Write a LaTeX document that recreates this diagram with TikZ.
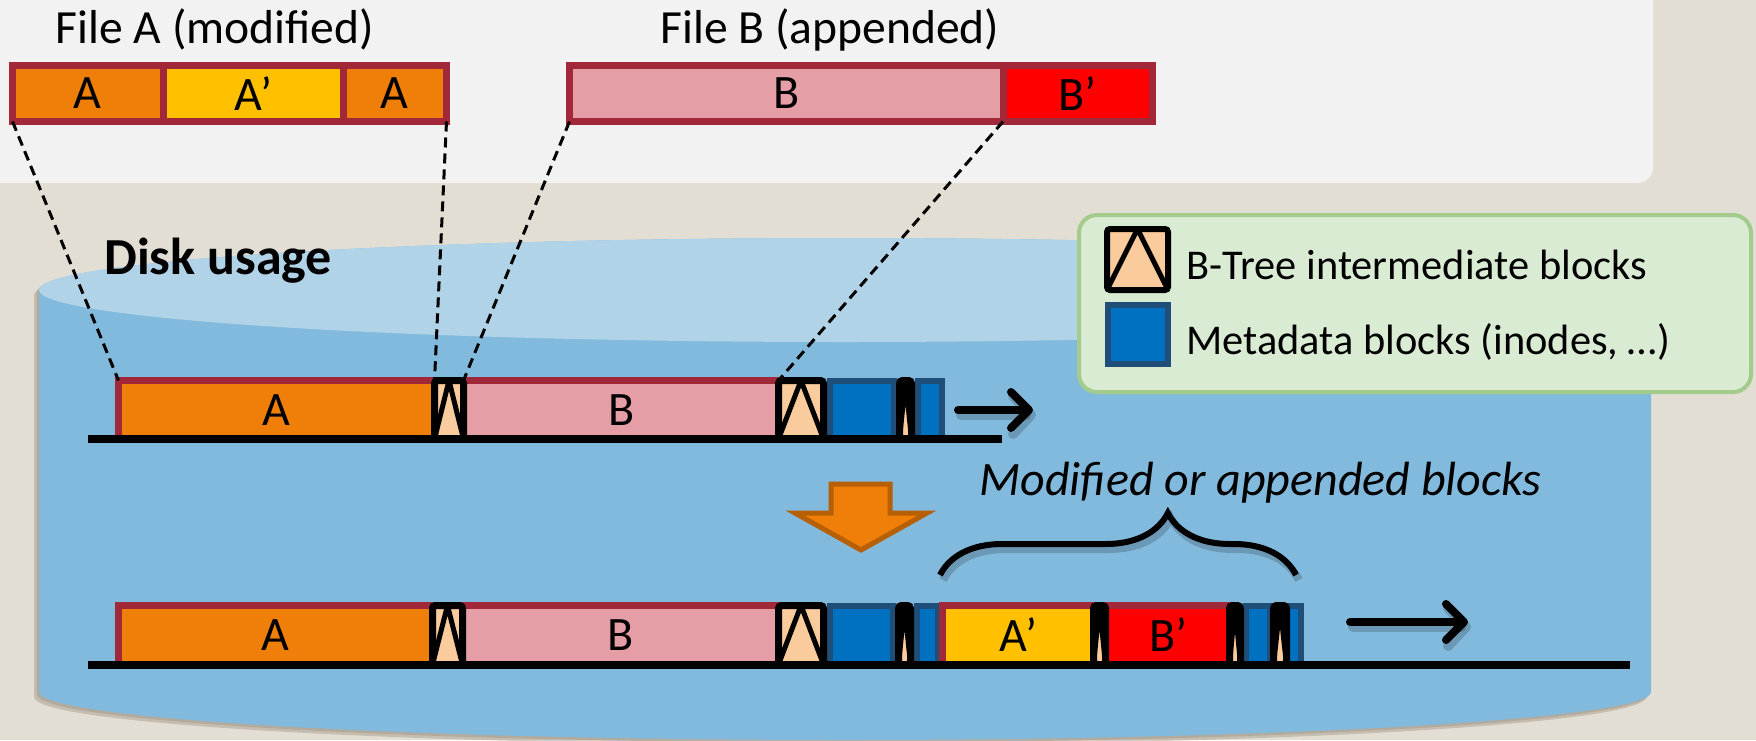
\documentclass[tikz,border=0pt]{standalone}
\usepackage{fontspec}
\setmainfont{Carlito}
\usetikzlibrary{fit,arrows.meta,decorations.pathreplacing}

\definecolor{cBg}{RGB}{227,222,212}
\definecolor{cPanel}{RGB}{242,242,242}
\definecolor{cBorder}{RGB}{160,40,56}
\definecolor{cOrange}{RGB}{240,127,9}
\definecolor{cYellow}{RGB}{255,192,0}
\definecolor{cPink}{RGB}{229,157,166}
\definecolor{cRed}{RGB}{255,0,0}
\definecolor{cPeach}{RGB}{250,203,156}
\definecolor{cBlue}{RGB}{0,112,192}
\definecolor{cNavy}{RGB}{31,78,121}
\definecolor{cCyl}{RGB}{130,186,221}
\definecolor{cCylTop}{RGB}{177,211,232}
\definecolor{cCylShade}{RGB}{168,158,142}
\definecolor{cLegFill}{RGB}{218,235,212}
\definecolor{cLegLine}{RGB}{163,204,140}
\definecolor{cArrowLine}{RGB}{183,95,5}

\tikzset{
  seg/.style={inner sep=0pt, outer sep=0pt, draw=cBorder, line width=3.5pt},
  blocktext/.style={inner sep=0pt, font=\fontsize{24}{28}\selectfont},
  btree/.style={inner sep=0pt, outer sep=0pt, fill=cPeach, draw=black,
    line width=3.5pt, rounded corners=1.5pt,
    path picture={\draw[line width=2.5pt, sharp corners]
      (path picture bounding box.south west) -- (path picture bounding box.north)
      -- (path picture bounding box.south east);}},
  meta/.style={inner sep=0pt, outer sep=0pt, fill=cBlue, draw=cNavy, line width=3pt},
  title/.style={inner sep=0pt, font=\fontsize{23.8}{28}\selectfont},
  legtext/.style={inner sep=0pt, font=\fontsize{21.2}{25}\selectfont},
  groundline/.style={line width=4pt},
  mapline/.style={line width=1.5pt, dash pattern=on 5pt off 3pt},
  growarrow/.style={line width=4pt, line cap=round,
    -{Straight Barb[length=9pt, width=18pt, round]}},
  growshadow/.style={line width=5pt, line cap=round, black, opacity=0.18,
    -{Straight Barb[length=9pt, width=19pt, round]}},
}

\newcommand\cylpath{(39,290) -- (39,692)
  arc[start angle=180, end angle=0, x radius=806, y radius=48]
  -- (1651,290)
  arc[start angle=0, end angle=-180, x radius=806, y radius=52] -- cycle}

\begin{document}
\begin{tikzpicture}[x=0.5pt, y=-0.5pt]
\useasboundingbox (0,0) rectangle (1756,740);

% background and upper panel
\fill[cBg] (0,0) rectangle (1756,740);
\fill[cPanel, rounded corners=8pt] (-30,-30) rectangle (1653,183);

% the disk cylinder with its soft shadow
\fill[cCylShade, opacity=0.5, xshift=-2.5pt, yshift=-2.5pt] \cylpath;
\fill[cCylShade, opacity=0.6, xshift=-1.2pt, yshift=-1.2pt] \cylpath;
\fill[cCyl] \cylpath;
\fill[cCylTop] (845,290) ellipse[x radius=806, y radius=52];

% legend
\node[inner sep=0pt, outer sep=0pt, fill=cLegFill, draw=cLegLine, line width=2pt,
  rounded corners=9pt, fit={(1079,215) (1751,392)}] (leg) {};
\node[btree, line width=3pt, fit={(1107,229) (1168,290)}] (legtree) {};
\node[meta, fit={(1108,305) (1168,364)}] (legmeta) {};
\node[legtext, anchor=base west] (legtreetext) at (1186,279) {B-Tree intermediate blocks};
\node[legtext, anchor=base west] (legmetatext) at (1186,354) {Metadata blocks (inodes, …)};

\node[inner sep=0pt, anchor=base west, font=\fontsize{26}{31}\selectfont\bfseries]
  (disk) at (104,274) {Disk usage};

% disk layout before the update
\node[seg, fill=cOrange, fit={(118.5,380.5) (435,439)},
  label={[blocktext]center:A}] (r1a) {};
\node[seg, fill=cPink, fit={(463,380.5) (780,439)},
  label={[blocktext]center:B}] (r1b) {};
\node[meta, fit={(830,380.5) (894,439)}] (r1m1) {};
\node[meta, fit={(918,380.5) (942,439)}] (r1m2) {};
\node[btree, fit={(434.5,380.5) (463.5,439)}] (r1t1) {};
\node[btree, fit={(778.5,380.5) (823.5,439)}] (r1t2) {};
\node[btree, fit={(899.5,380.5) (911.5,439)}] (r1t3) {};
\draw[groundline] (88,439) -- (1002,439);
\coordinate (r1from) at (958,410);
\coordinate (r1to) at (1033,410);
\draw[growshadow] ([shift={(3,5)}]r1from) -- ([shift={(3,5)}]r1to);
\draw[growarrow] (r1from) -- (r1to);

% disk layout after the update
\node[seg, fill=cOrange, fit={(118.5,605.5) (433,664.5)},
  label={[blocktext]center:A}] (r2a) {};
\node[seg, fill=cPink, fit={(462,605.5) (780,664.5)},
  label={[blocktext]center:B}] (r2b) {};
\node[meta, fit={(830,605.5) (893,664.5)}] (r2m1) {};
\node[meta, fit={(917,605.5) (938,664.5)}] (r2m2) {};
\node[seg, fill=cYellow, fit={(942.5,605.5) (1093.5,664.5)},
  label={[blocktext]center:A’}] (r2ap) {};
\node[seg, fill=cRed, fit={(1105.5,605.5) (1232,664.5)},
  label={[blocktext]center:B’}] (r2bp) {};
\node[meta, fit={(1246,605.5) (1270,664.5)}] (r2m3) {};
\node[meta, fit={(1285,605.5) (1301,664.5)}] (r2m4) {};
\node[btree, fit={(432.5,605.5) (462.5,664.5)}] (r2t1) {};
\node[btree, fit={(778.5,605.5) (823.5,664.5)}] (r2t2) {};
\node[btree, fit={(898.5,605.5) (910.5,664.5)}] (r2t3) {};
\node[btree, fit={(1093.5,605.5) (1105.5,664.5)}] (r2t4) {};
\node[btree, fit={(1229.5,605.5) (1240.5,664.5)}] (r2t5) {};
\node[btree, fit={(1273.5,605.5) (1286.5,664.5)}] (r2t6) {};
\draw[groundline] (88,664.5) -- (1630,664.5);
\coordinate (r2from) at (1350,622);
\coordinate (r2to) at (1468,622);
\draw[growshadow] ([shift={(3,5)}]r2from) -- ([shift={(3,5)}]r2to);
\draw[growarrow] (r2from) -- (r2to);

% orange block arrow between the two layouts
\fill[cOrange, draw=cArrowLine, line width=2.5pt, line join=miter]
  (831,484) -- (890,484) -- (890,513) -- (927,513) -- (861,550)
  -- (795,513) -- (831,513) -- cycle;

% brace over the new blocks
\coordinate (brl) at (940,575);
\coordinate (brr) at (1296,575);
\draw[black, opacity=0.18, line width=4pt, decorate,
  decoration={brace, amplitude=31pt, aspect=0.64}]
  ([shift={(3,5)}]brl) -- ([shift={(3,5)}]brr);
\draw[line width=3pt, decorate, decoration={brace, amplitude=31pt, aspect=0.64}]
  (brl) -- (brr);
\node[inner sep=0pt, anchor=base west, font=\fontsize{24}{28}\selectfont\itshape]
  (modlabel) at (979,495) {Modified or appended blocks};

% the two files
\node[seg, fill=cOrange, fit={(12.5,65.5) (163,121.5)},
  label={[blocktext]center:A}] (fa1) {};
\node[seg, fill=cYellow, fit={(163,65.5) (343,121.5)},
  label={[blocktext]center:A’}] (fa2) {};
\node[seg, fill=cOrange, fit={(343,65.5) (446.5,121.5)},
  label={[blocktext]center:A}] (fa3) {};
\node[seg, fill=cPink, fit={(569.5,65.5) (1003,121.5)},
  label={[blocktext]center:B}] (fb1) {};
\node[seg, fill=cRed, fit={(1003,65.5) (1152.5,121.5)},
  label={[blocktext]center:B’}] (fb2) {};
\node[title, anchor=base] (ta) at (215,43) {File A (modified)};
\node[title, anchor=base] (tb) at (830,43) {File B (appended)};

% mapping of file extents onto disk blocks
\draw[mapline] (fa1.south west) -- (r1a.north west);
\draw[mapline] (fa3.south east) -- (r1t1.north west);
\draw[mapline] (fb1.south west) -- (r1t1.north east);
\draw[mapline] (fb1.south east) -- (r1t2.north west);
\end{tikzpicture}
\end{document}
